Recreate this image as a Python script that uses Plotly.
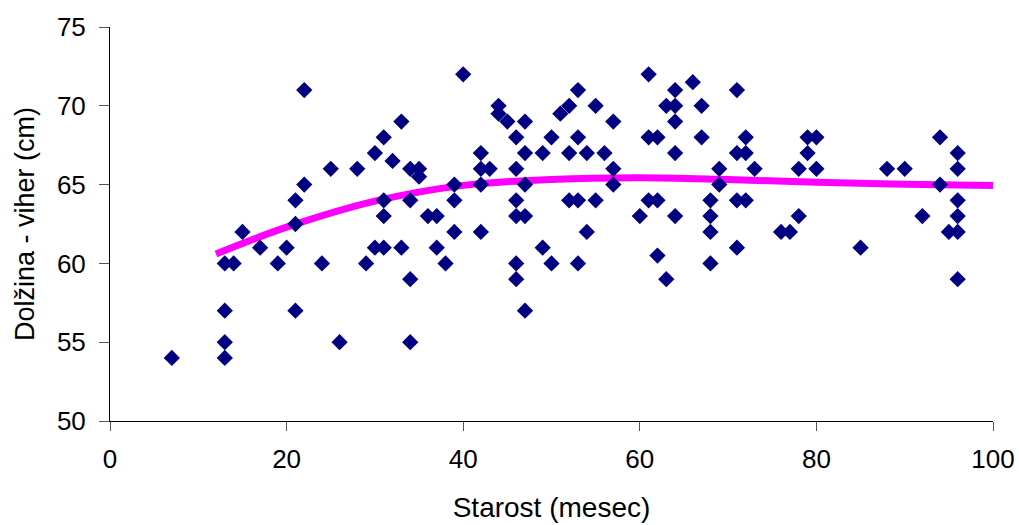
import plotly.graph_objects as go

# age in months (x) and height-withers in cm (y)
starost = [
    7,
    13, 13, 13, 13,
    14, 15, 17, 19, 20,
    21, 21, 21,
    22, 22,
    24, 25, 26, 28, 29,
    30, 30,
    31, 31, 31, 31,
    32,
    33, 33,
    34, 34, 34, 34,
    35, 35,
    36,
    37, 37,
    38,
    39, 39, 39,
    40,
    42, 42, 42, 42,
    43,
    44, 44,
    45,
    46, 46, 46, 46, 46, 46,
    47, 47, 47, 47, 47,
    49, 49,
    50, 50,
    51,
    52, 52, 52,
    53, 53, 53, 53,
    54, 54,
    55, 55,
    56,
    57, 57, 57,
    60,
    61, 61, 61,
    62, 62, 62,
    63, 63,
    64, 64, 64, 64, 64,
    66,
    67, 67,
    68, 68, 68, 68,
    69, 69,
    71, 71, 71, 71,
    72, 72, 72,
    73,
    76, 77,
    78, 78,
    79, 79,
    80, 80,
    85, 88, 90, 92,
    94, 94,
    95,
    96, 96, 96, 96, 96, 96,
]
dolzina = [
    54,
    60, 57, 55, 54,
    60, 62, 61, 60, 61,
    64, 62.5, 57,
    71, 65,
    60, 66, 55, 66, 60,
    67, 61,
    68, 64, 63, 61,
    66.5,
    69, 61,
    66, 64, 59, 55,
    66, 65.5,
    63,
    63, 61,
    60,
    65, 64, 62,
    72,
    67, 66, 65, 62,
    66,
    70, 69.5,
    69,
    68, 66, 64, 63, 60, 59,
    69, 67, 65, 63, 57,
    67, 61,
    68, 60,
    69.5,
    70, 67, 64,
    71, 68, 64, 60,
    67, 62,
    70, 64,
    67,
    69, 66, 65,
    63,
    72, 68, 64,
    68, 64, 60.5,
    70, 59,
    71, 70, 69, 67, 63,
    71.5,
    70, 68,
    64, 63, 62, 60,
    66, 65,
    71, 67, 64, 61,
    68, 67, 64,
    66,
    62, 62,
    66, 63,
    68, 67,
    68, 66,
    61, 66, 66, 63,
    68, 65,
    62,
    67, 66, 64, 63, 62, 59,
]

# trend line
trend_x = [12, 20, 30, 40, 50, 60, 70, 80, 90, 100]
trend_y = [60.6, 62.3, 63.95, 64.95, 65.33, 65.44, 65.32, 65.15, 65.02, 64.95]

x_ticks = [0, 20, 40, 60, 80, 100]
y_ticks = [50, 55, 60, 65, 70, 75]

font = "Liberation Sans, Arial, sans-serif"

fig = go.Figure()
fig.add_trace(go.Scatter(
    x=trend_x, y=trend_y, mode="lines",
    line=dict(color="#FF00FF", width=7, shape="spline", smoothing=1.0),
    hoverinfo="skip", showlegend=False,
))
fig.add_trace(go.Scatter(
    x=starost, y=dolzina, mode="markers",
    marker=dict(symbol="diamond", size=12.5, color="#000080",
                line=dict(width=0)),
    showlegend=False,
))

fig.update_layout(
    width=1019, height=525,
    margin=dict(l=110, r=26, t=27, b=104),
    paper_bgcolor="white", plot_bgcolor="white",
    font=dict(family=font, size=26, color="black"),
    xaxis=dict(
        range=[0, 100], tickvals=x_ticks, showgrid=False, zeroline=False,
        automargin=False,
        showline=True, linecolor="black", linewidth=1,
        ticks="outside", ticklen=9, tickcolor="#555555", tickwidth=1,
        ticklabelstandoff=6,
        title=dict(text="Starost (mesec)", standoff=24,
                   font=dict(size=28)),
    ),
    yaxis=dict(
        range=[50, 75], tickvals=y_ticks, showgrid=False, zeroline=False,
        automargin=False,
        showline=True, linecolor="black", linewidth=1,
        ticks="outside", ticklen=10, tickcolor="#555555", tickwidth=1,
        ticklabelstandoff=8,
        title=dict(text="Dolžina - viher (cm)", standoff=14,
                   font=dict(size=27)),
    ),
)

fig.write_html("out.html")
